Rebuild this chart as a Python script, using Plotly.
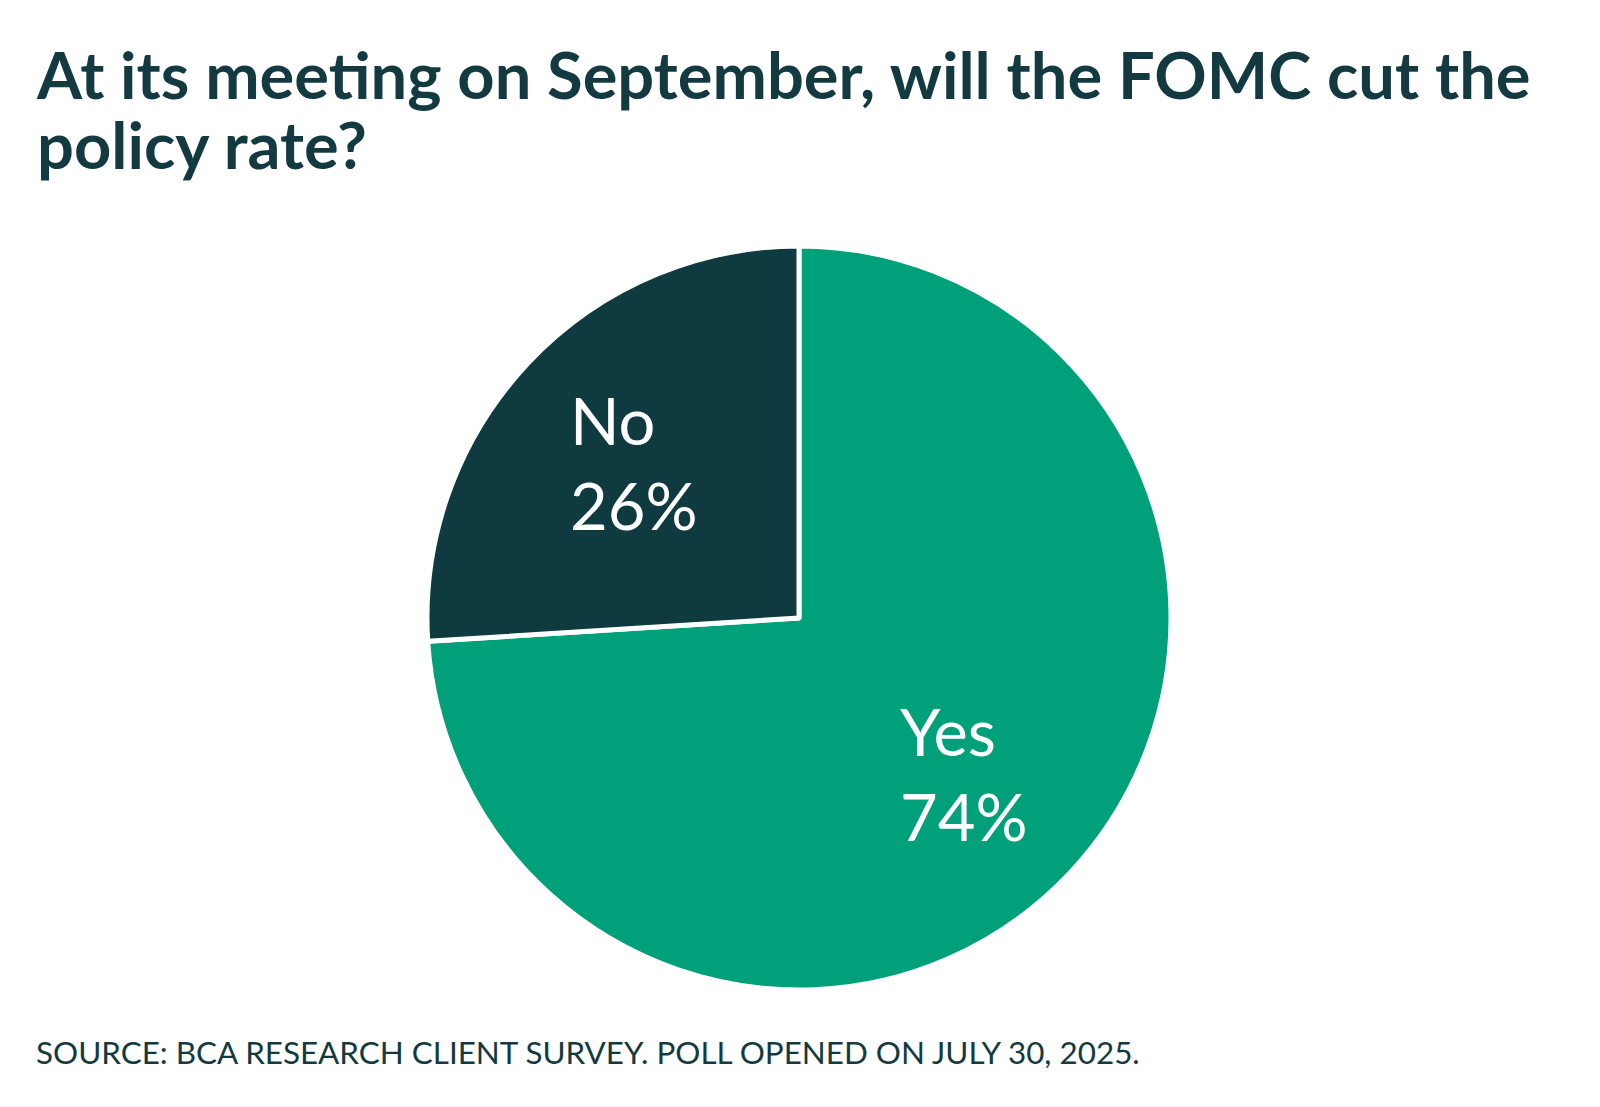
import math
import plotly.graph_objects as go

# ---- data ----
categories = ["Yes", "No"]
values = [74, 26]
colors = ["#00A07A", "#0E3A40"]
title_lines = ["At its meeting on September, will the FOMC cut the", "policy rate?"]
source_text = "SOURCE: BCA RESEARCH CLIENT SURVEY. POLL OPENED ON JULY 30, 2025."

W, H = 1600, 1107
cx, cy, R = 791, 610, 372  # pie center / radius in pixels (layout)

dom_x = [(cx - R) / W, (cx + R) / W]
dom_y = [1 - (cy + R) / H, 1 - (cy - R) / H]

fig = go.Figure()
fig.add_trace(go.Pie(
    labels=categories,
    values=values,
    sort=False,
    direction="clockwise",
    rotation=0,
    marker=dict(colors=colors, line=dict(color="white", width=5)),
    textinfo="none",
    hoverinfo="label+percent",
    showlegend=False,
    domain=dict(x=dom_x, y=dom_y),
))

# labels placed at each slice's mid-angle
annotations = []
total = sum(values)
start = 90.0
for cat, v in zip(categories, values):
    span = 360.0 * v / total
    mid = start - span / 2
    start -= span
    rr = 0.61 * R
    px = cx + rr * math.cos(math.radians(mid))
    py = cy - rr * math.sin(math.radians(mid))
    annotations.append(dict(
        x=px / W, y=1 - py / H, xref="paper", yref="paper",
        text=f"{cat}<br>{v}%", showarrow=False, align="left",
        xanchor="center", yanchor="middle",
        font=dict(family="Lato", size=65, color="white"),
    ))

# title: line spacing driven by the annotation font size (54 * 1.3 ≈ 70px)
title_html = "<br>".join(f'<span style="font-size:65px">{t}</span>' for t in title_lines)
annotations.append(dict(
    x=26 / W, y=1 - 25 / H, xref="paper", yref="paper",
    text=title_html, showarrow=False, align="left",
    xanchor="left", yanchor="top",
    font=dict(family="Lato", size=54, color="#133A40", weight="bold"),
))
annotations.append(dict(
    x=26 / W, y=1 - 1044 / H, xref="paper", yref="paper",
    text=source_text, showarrow=False, align="left",
    xanchor="left", yanchor="middle",
    font=dict(family="Lato", size=31.4, color="#133A40"),
))

fig.update_layout(
    width=W, height=H, autosize=False,
    margin=dict(l=0, r=0, t=0, b=0),
    paper_bgcolor="white", plot_bgcolor="white",
    annotations=annotations,
)

fig.write_html("out.html")
